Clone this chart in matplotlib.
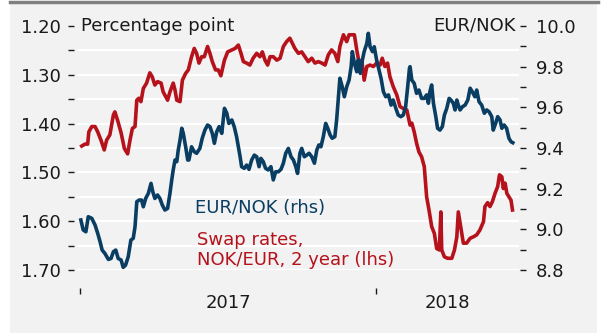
import matplotlib
matplotlib.use("Agg")
import matplotlib.pyplot as plt
from matplotlib.patches import Rectangle
from matplotlib.ticker import MultipleLocator, NullFormatter

# Swap rates NOK/EUR, 2 year (percentage point, lhs) - time in years since 1 Jan 2017
swap_t = [0.006, 0.017, 0.026, 0.030, 0.040, 0.051, 0.060, 0.071, 0.082, 0.090,
          0.101, 0.113, 0.118, 0.127, 0.139, 0.150, 0.161, 0.169, 0.177, 0.186,
          0.192, 0.199, 0.206, 0.214, 0.225, 0.236, 0.244, 0.253, 0.262, 0.274,
          0.281, 0.296, 0.304, 0.315, 0.321, 0.327, 0.338, 0.346, 0.357, 0.366,
          0.377, 0.386, 0.394, 0.402, 0.411, 0.420, 0.431, 0.439, 0.447, 0.458,
          0.467, 0.476, 0.488, 0.499, 0.513, 0.524, 0.535, 0.544, 0.552, 0.563,
          0.574, 0.585, 0.597, 0.608, 0.616, 0.625, 0.634, 0.642, 0.653, 0.665,
          0.676, 0.687, 0.698, 0.709, 0.717, 0.726, 0.738, 0.749, 0.760, 0.771,
          0.783, 0.794, 0.805, 0.817, 0.828, 0.839, 0.850, 0.861, 0.871, 0.878,
          0.890, 0.901, 0.909, 0.918, 0.927, 0.935, 0.943, 0.952, 0.960, 0.969,
          0.980, 0.991, 1.002, 1.014, 1.021, 1.030, 1.039, 1.047, 1.058, 1.070,
          1.081, 1.092, 1.104, 1.115, 1.121, 1.129, 1.137, 1.145, 1.154, 1.163,
          1.171, 1.179, 1.188, 1.197, 1.205, 1.214, 1.219, 1.222, 1.231, 1.242,
          1.256, 1.265, 1.273, 1.278, 1.286, 1.295, 1.306, 1.318, 1.329, 1.340,
          1.351, 1.363, 1.368, 1.377, 1.385, 1.393, 1.402, 1.411, 1.417, 1.425,
          1.430, 1.436, 1.442, 1.449, 1.456, 1.461]
swap = [1.446, 1.442, 1.442, 1.417, 1.406, 1.406, 1.417, 1.434, 1.454, 1.434,
        1.423, 1.382, 1.376, 1.393, 1.419, 1.451, 1.462, 1.434, 1.410, 1.406,
        1.352, 1.348, 1.355, 1.328, 1.317, 1.296, 1.304, 1.321, 1.314, 1.317,
        1.335, 1.352, 1.335, 1.317, 1.331, 1.352, 1.355, 1.311, 1.297, 1.290,
        1.263, 1.246, 1.256, 1.276, 1.263, 1.263, 1.242, 1.256, 1.273, 1.290,
        1.290, 1.302, 1.270, 1.253, 1.249, 1.246, 1.239, 1.256, 1.273, 1.276,
        1.280, 1.266, 1.256, 1.263, 1.253, 1.270, 1.280, 1.263, 1.263, 1.270,
        1.266, 1.242, 1.232, 1.225, 1.235, 1.246, 1.256, 1.253, 1.263, 1.273,
        1.266, 1.276, 1.273, 1.276, 1.280, 1.259, 1.249, 1.256, 1.273, 1.242,
        1.218, 1.232, 1.218, 1.218, 1.218, 1.249, 1.276, 1.270, 1.311, 1.283,
        1.280, 1.283, 1.276, 1.280, 1.266, 1.283, 1.276, 1.304, 1.324, 1.341,
        1.365, 1.369, 1.372, 1.403, 1.399, 1.417, 1.440, 1.458, 1.468, 1.488,
        1.550, 1.577, 1.611, 1.625, 1.656, 1.659, 1.581, 1.659, 1.673, 1.676,
        1.676, 1.659, 1.632, 1.581, 1.611, 1.645, 1.645, 1.635, 1.632, 1.628,
        1.618, 1.601, 1.570, 1.562, 1.570, 1.560, 1.543, 1.529, 1.505, 1.509,
        1.533, 1.522, 1.543, 1.550, 1.557, 1.577]

# EUR/NOK (rhs)
fx_t = [0.003, 0.011, 0.020, 0.028, 0.040, 0.051, 0.060, 0.068, 0.075, 0.084,
        0.096, 0.105, 0.113, 0.121, 0.129, 0.139, 0.146, 0.154, 0.163, 0.172,
        0.180, 0.186, 0.192, 0.200, 0.208, 0.214, 0.222, 0.231, 0.240, 0.246,
        0.253, 0.262, 0.270, 0.278, 0.287, 0.296, 0.304, 0.310, 0.315, 0.321,
        0.327, 0.332, 0.338, 0.344, 0.349, 0.357, 0.364, 0.368, 0.377, 0.386,
        0.394, 0.405, 0.413, 0.422, 0.431, 0.439, 0.447, 0.454, 0.462, 0.470,
        0.479, 0.488, 0.496, 0.503, 0.513, 0.521, 0.529, 0.535, 0.541, 0.546,
        0.555, 0.563, 0.571, 0.580, 0.589, 0.597, 0.605, 0.611, 0.619, 0.627,
        0.636, 0.645, 0.653, 0.661, 0.670, 0.679, 0.687, 0.695, 0.704, 0.713,
        0.721, 0.729, 0.735, 0.743, 0.749, 0.758, 0.766, 0.774, 0.783, 0.792,
        0.800, 0.807, 0.814, 0.822, 0.830, 0.837, 0.845, 0.852, 0.861, 0.867,
        0.873, 0.878, 0.886, 0.893, 0.901, 0.909, 0.916, 0.920, 0.927, 0.935,
        0.940, 0.947, 0.954, 0.960, 0.969, 0.974, 0.980, 0.988, 0.994, 1.002,
        1.010, 1.017, 1.025, 1.033, 1.042, 1.051, 1.058, 1.067, 1.075, 1.084,
        1.092, 1.100, 1.107, 1.113, 1.115, 1.121, 1.129, 1.137, 1.145, 1.154,
        1.163, 1.171, 1.177, 1.182, 1.188, 1.194, 1.202, 1.208, 1.216, 1.224,
        1.231, 1.239, 1.247, 1.253, 1.261, 1.267, 1.273, 1.278, 1.284, 1.292,
        1.301, 1.310, 1.318, 1.325, 1.334, 1.340, 1.348, 1.357, 1.366, 1.374,
        1.382, 1.391, 1.396, 1.404, 1.411, 1.419, 1.425, 1.433, 1.441, 1.449,
        1.456, 1.462]
fx = [9.046, 8.997, 8.988, 9.062, 9.054, 9.021, 8.980, 8.939, 8.898, 8.882,
      8.852, 8.857, 8.890, 8.898, 8.857, 8.849, 8.813, 8.824, 8.865, 8.947,
      8.956, 9.013, 9.136, 9.144, 9.144, 9.111, 9.152, 9.177, 9.226, 9.185,
      9.152, 9.169, 9.152, 9.120, 9.095, 9.103, 9.177, 9.243, 9.292, 9.341,
      9.333, 9.390, 9.439, 9.497, 9.472, 9.406, 9.341, 9.341, 9.406, 9.382,
      9.374, 9.398, 9.448, 9.488, 9.513, 9.505, 9.472, 9.423, 9.480, 9.505,
      9.472, 9.595, 9.571, 9.521, 9.538, 9.505, 9.456, 9.406, 9.357, 9.308,
      9.300, 9.316, 9.295, 9.341, 9.365, 9.357, 9.308, 9.349, 9.333, 9.300,
      9.292, 9.308, 9.243, 9.283, 9.283, 9.295, 9.325, 9.374, 9.398, 9.357,
      9.341, 9.308, 9.275, 9.374, 9.398, 9.357, 9.365, 9.374, 9.357, 9.325,
      9.390, 9.415, 9.406, 9.456, 9.521, 9.497, 9.464, 9.448, 9.456, 9.538,
      9.652, 9.743, 9.701, 9.652, 9.701, 9.734, 9.800, 9.874, 9.817, 9.775,
      9.833, 9.767, 9.833, 9.874, 9.915, 9.964, 9.898, 9.874, 9.898, 9.833,
      9.784, 9.743, 9.677, 9.652, 9.661, 9.611, 9.636, 9.595, 9.562, 9.554,
      9.562, 9.603, 9.701, 9.792, 9.800, 9.734, 9.718, 9.669, 9.685, 9.644,
      9.644, 9.661, 9.620, 9.677, 9.710, 9.620, 9.554, 9.497, 9.488, 9.505,
      9.562, 9.595, 9.644, 9.636, 9.620, 9.587, 9.636, 9.611, 9.587, 9.603,
      9.611, 9.636, 9.694, 9.677, 9.652, 9.685, 9.628, 9.611, 9.571, 9.587,
      9.578, 9.554, 9.488, 9.521, 9.554, 9.538, 9.497, 9.513, 9.497, 9.448,
      9.431, 9.426]

left_ticks = [1.20, 1.30, 1.40, 1.50, 1.60, 1.70]
right_ticks = [10.0, 9.8, 9.6, 9.4, 9.2, 9.0, 8.8]
year_labels = ['2017', '2018']
year_label_pos = [0.5, 1.24]

RED = '#b5121b'
BLUE = '#0a3d62'
BG = '#f2f2f2'
TXT = '#1a1a1a'
FS = 13

W, H = 604, 336
fig = plt.figure(figsize=(W / 100, H / 100), dpi=100)
fig.patch.set_facecolor('white')

# grey panel with a darker rule across the top
fig.patches.append(Rectangle((10 / W, 1 - 333 / H), 587 / W, 330 / H,
                             transform=fig.transFigure, facecolor=BG,
                             edgecolor='none', zorder=-5))
fig.add_artist(plt.Line2D([10 / W, 598 / W], [1 - 2 / H, 1 - 2 / H],
                          transform=fig.transFigure, color='#808080', lw=2.5,
                          zorder=-4))

ax = fig.add_axes([77 / W, 1 - 270 / H, 442 / W, 244 / H])
ax.set_facecolor('none')
ax2 = ax.twinx()
ax2.patch.set_visible(False)

ax.set_xlim(-0.010, 1.483)
ax.set_ylim(1.70, 1.20)
ax2.set_ylim(8.8, 10.0)

for a in (ax, ax2):
    for s in a.spines.values():
        s.set_visible(False)

# white grid on the left scale
for v in [1.25, 1.30, 1.35, 1.40, 1.45, 1.50, 1.55, 1.60, 1.65, 1.70]:
    ax.axhline(v, color='white', lw=1.6, zorder=0)

ax.set_yticks(left_ticks)
ax.set_yticklabels([f'{v:.2f}' for v in left_ticks])
ax.yaxis.set_minor_locator(MultipleLocator(0.05))
ax.yaxis.set_minor_formatter(NullFormatter())
ax.spines['left'].set_position(('outward', 2))
ax.tick_params(axis='y', which='both', direction='out', length=4.5, width=1,
               color=TXT, labelsize=FS, labelcolor=TXT, pad=5)

ax2.set_yticks(right_ticks)
ax2.set_yticklabels([f'{v:.1f}' for v in right_ticks], ha='right')
ax2.yaxis.set_minor_locator(MultipleLocator(0.1))
ax2.yaxis.set_minor_formatter(NullFormatter())
ax2.spines['right'].set_position(('outward', 1))
ax2.tick_params(axis='y', which='both', direction='out', length=4, width=1,
                color=TXT, labelsize=FS, labelcolor=TXT, pad=7)

# year boundaries as ticks, year names centred in their span
ax.set_xticks([0.0, 1.0])
ax.set_xticklabels([])
ax.spines['bottom'].set_position(('outward', 13))
ax.tick_params(axis='x', direction='out', length=4, width=1, color=TXT)
for lab, pos in zip(year_labels, year_label_pos):
    ax.text(pos, -0.135, lab, transform=ax.get_xaxis_transform(),
            ha='center', va='center', fontsize=FS, color=TXT)

ax.plot(swap_t, swap, color=RED, lw=2.6, zorder=3)
ax2.plot(fx_t, fx, color=BLUE, lw=2.6, zorder=3)

ax.text(0.003, 1.20, 'Percentage point', ha='left', va='center',
        fontsize=FS, color=TXT, zorder=5)
ax2.text(1.472, 10.0, 'EUR/NOK', ha='right', va='center',
         fontsize=FS, color=TXT, zorder=5)

ax.text(0.39, 1.572, 'EUR/NOK (rhs)', ha='left', va='center',
        fontsize=FS, color=BLUE)
ax.text(0.395, 1.638, 'Swap rates,', ha='left', va='center',
        fontsize=FS, color=RED)
ax.text(0.395, 1.680, 'NOK/EUR, 2 year (lhs)', ha='left', va='center',
        fontsize=FS, color=RED)

fig.savefig('out.png', dpi=100)
